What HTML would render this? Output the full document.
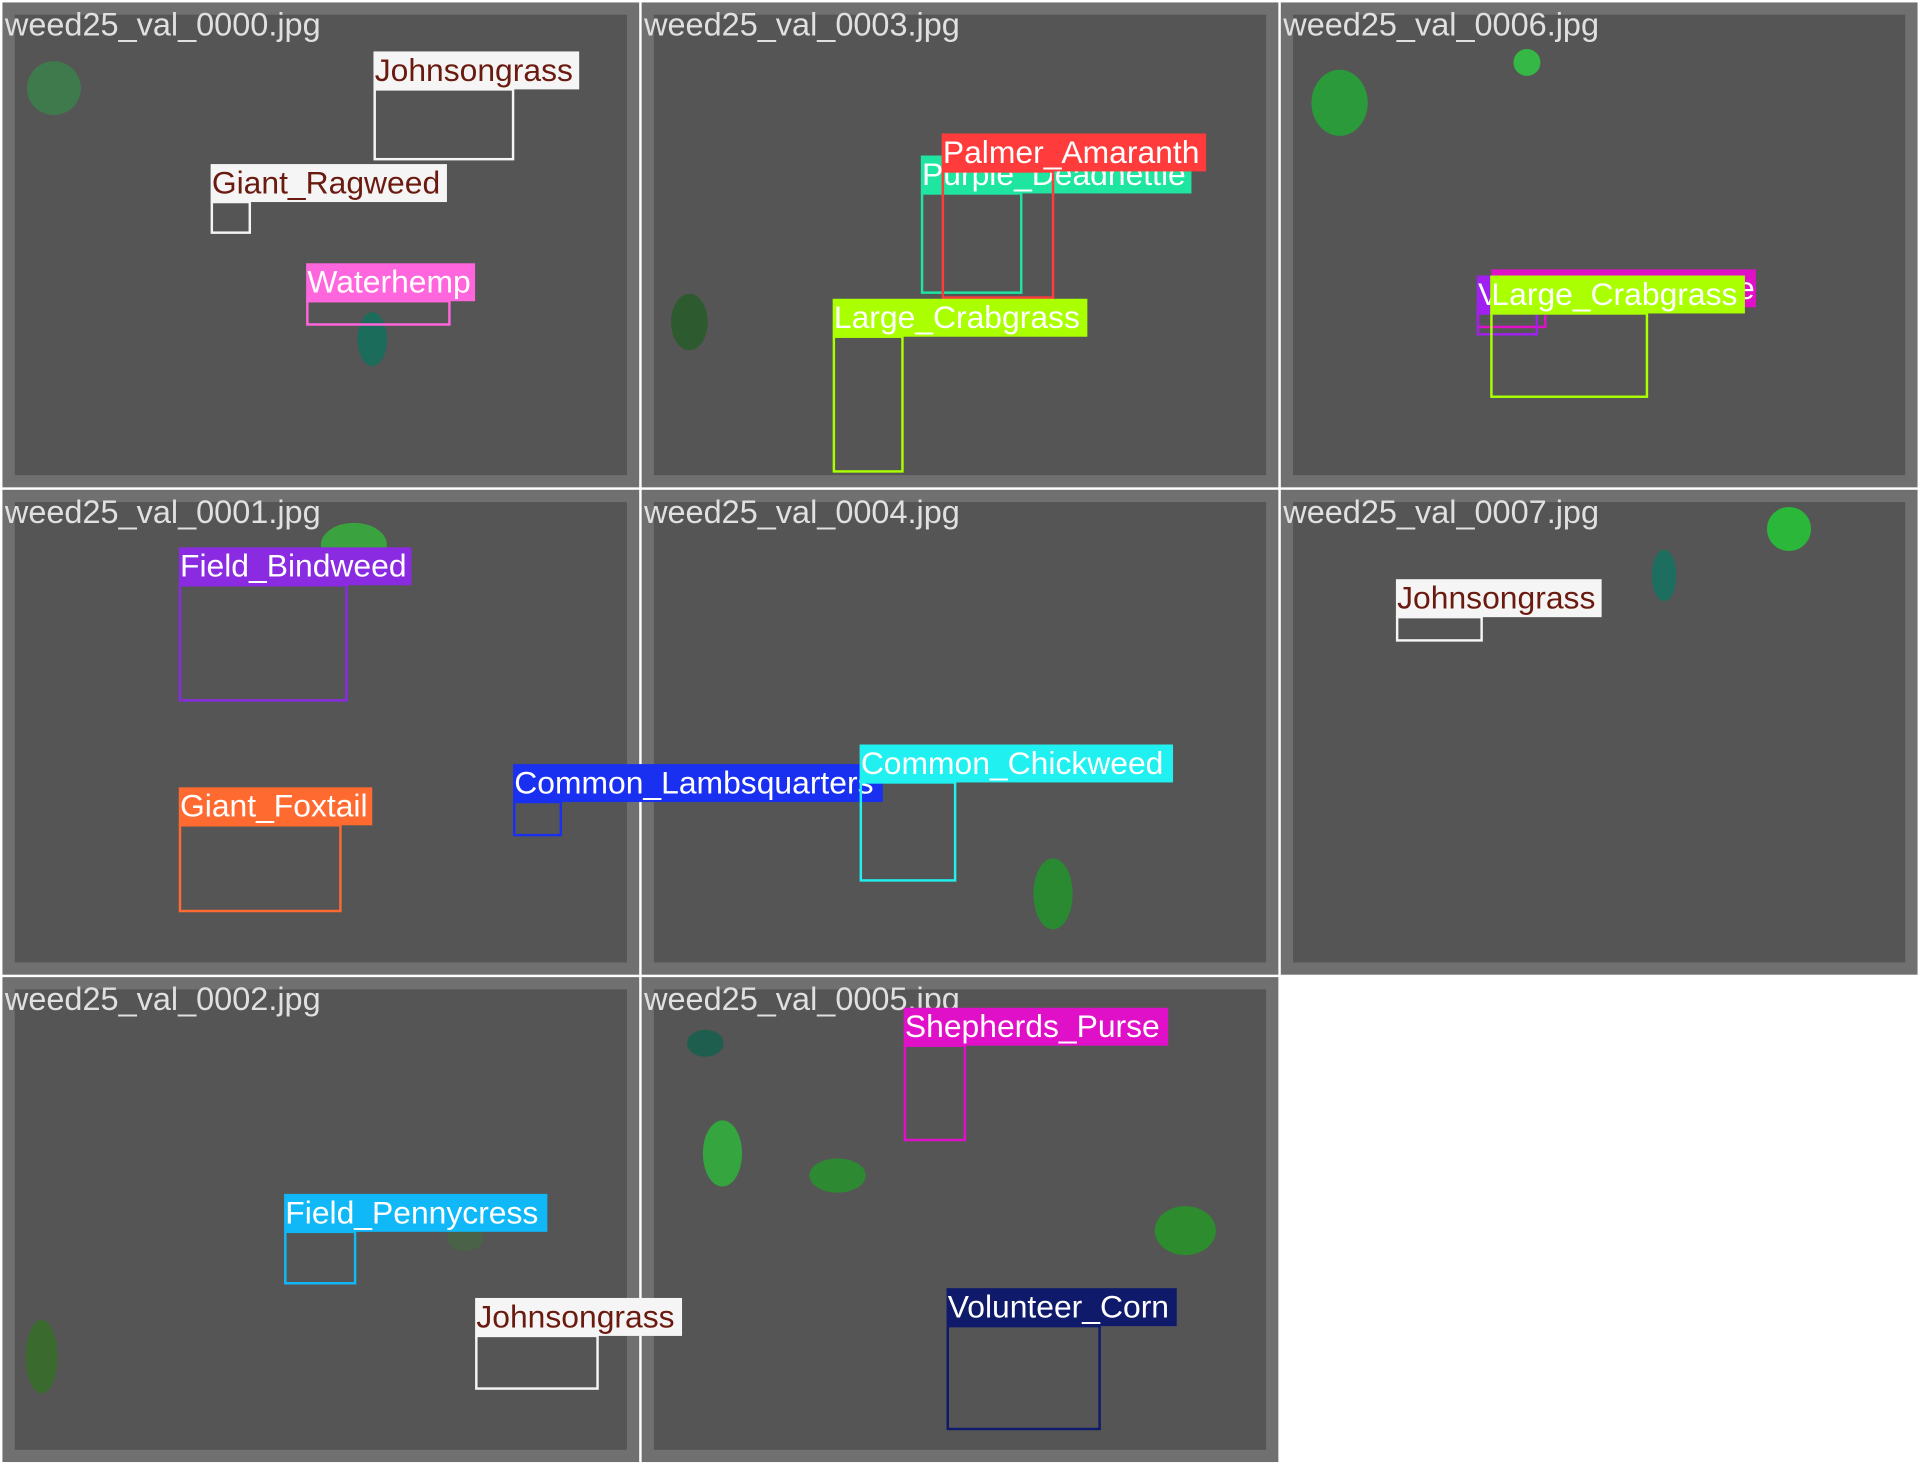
<!DOCTYPE html>
<html><head><meta charset="utf-8"><style>
html,body{margin:0;padding:0;background:#fff;width:1920px;height:1464px;overflow:hidden}
#s{position:absolute;left:0;top:0;width:1568px;height:1196px;transform:scale(1.22449);transform-origin:0 0;font-family:"Liberation Sans",sans-serif}
.t{position:absolute;width:520px;height:396px;background:#707070}
.t .in{position:absolute;left:10px;top:10px;right:10px;bottom:10px;background:#555555}
.ttl{position:absolute;font-size:26.5px;color:#e0e0e0;line-height:28px;white-space:nowrap}
.l{position:absolute;height:31px;line-height:31px;font-size:26px;color:#fff;white-space:nowrap;padding:0 1px;box-sizing:border-box;overflow:visible}
.b{position:absolute;border:2px solid;box-sizing:border-box}
.e{position:absolute;border-radius:50%}
</style></head><body><div id="s">
<div class="t" style="left:2px;top:2px"><div class="in"></div></div>
<div class="t" style="left:524px;top:2px"><div class="in"></div></div>
<div class="t" style="left:1046px;top:2px"><div class="in"></div></div>
<div class="t" style="left:2px;top:400px"><div class="in"></div></div>
<div class="t" style="left:524px;top:400px"><div class="in"></div></div>
<div class="t" style="left:1046px;top:400px"><div class="in"></div></div>
<div class="t" style="left:2px;top:798px"><div class="in"></div></div>
<div class="t" style="left:524px;top:798px"><div class="in"></div></div>

<!-- ellipses -->
<div class="e" style="left:22px;top:50px;width:44px;height:44px;background:#3f7a4c"></div>
<div class="e" style="left:292px;top:255px;width:24px;height:44px;background:#1c6c5c"></div>
<div class="e" style="left:548px;top:240px;width:30px;height:46px;background:#2e5a30"></div>
<div class="e" style="left:1071px;top:57px;width:46px;height:54px;background:#2a9a3a"></div>
<div class="e" style="left:1236px;top:40px;width:22px;height:22px;background:#35b845"></div>
<div class="e" style="left:262px;top:427px;width:54px;height:36px;background:#3aa23e"></div>
<div class="e" style="left:844px;top:701px;width:32px;height:58px;background:#2a8a32"></div>
<div class="e" style="left:1443px;top:414px;width:36px;height:36px;background:#2bb83a"></div>
<div class="e" style="left:1349px;top:449px;width:20px;height:42px;background:#1e6e60"></div>
<div class="e" style="left:21px;top:1078px;width:26px;height:60px;background:#3a6a2e"></div>
<div class="e" style="left:365px;top:998px;width:30px;height:24px;background:#4a6248"></div>
<div class="e" style="left:561px;top:841px;width:30px;height:22px;background:#1e5e4e"></div>
<div class="e" style="left:574px;top:915px;width:32px;height:54px;background:#35a540"></div>
<div class="e" style="left:661px;top:946px;width:46px;height:28px;background:#2e8a32"></div>
<div class="e" style="left:943px;top:985px;width:50px;height:40px;background:#2c8c2e"></div>

<!-- titles -->
<div class="ttl" style="left:4px;top:6px">weed25_val_0000.jpg</div>
<div class="ttl" style="left:526px;top:6px">weed25_val_0003.jpg</div>
<div class="ttl" style="left:1048px;top:6px">weed25_val_0006.jpg</div>
<div class="ttl" style="left:4px;top:404px">weed25_val_0001.jpg</div>
<div class="ttl" style="left:526px;top:404px">weed25_val_0004.jpg</div>
<div class="ttl" style="left:1048px;top:404px">weed25_val_0007.jpg</div>
<div class="ttl" style="left:4px;top:802px">weed25_val_0002.jpg</div>
<div class="ttl" style="left:526px;top:802px">weed25_val_0005.jpg</div>

<!-- tile 0000 -->
<div class="b" style="left:305px;top:72px;width:115px;height:59px;border-color:#f5f5f5"></div>
<div class="l" style="left:305px;top:42px;width:168px;background:#f5f5f5;color:#6b1a10">Johnsongrass</div>
<div class="b" style="left:172px;top:164px;width:33px;height:27px;border-color:#f5f5f5"></div>
<div class="l" style="left:172px;top:134px;width:193px;background:#f5f5f5;color:#6b1a10">Giant_Ragweed</div>
<div class="b" style="left:250px;top:245px;width:118px;height:21px;border-color:#ff66dd"></div>
<div class="l" style="left:250px;top:215px;width:138px;background:#ff66dd">Waterhemp</div>

<!-- tile 0003 -->
<div class="b" style="left:752px;top:157px;width:83px;height:83px;border-color:#1ee6a0"></div>
<div class="l" style="left:752px;top:127px;width:221px;background:#1ee6a0">Purple_Deadnettle</div>
<div class="b" style="left:769px;top:139px;width:92px;height:105px;border-color:#ff3b3b"></div>
<div class="l" style="left:769px;top:109px;width:216px;background:#ff3b3b">Palmer_Amaranth</div>
<div class="b" style="left:680px;top:274px;width:58px;height:112px;border-color:#aaff00"></div>
<div class="l" style="left:680px;top:244px;width:208px;background:#aaff00">Large_Crabgrass</div>

<!-- tile 0006 -->
<div class="b" style="left:1206px;top:250px;width:57px;height:18px;border-color:#e010c8"></div>
<div class="b" style="left:1206px;top:255px;width:50px;height:19px;border-color:#a020f0"></div>
<div class="l" style="left:1218px;top:220px;width:216px;background:#e010c8;text-align:right">e</div>
<div class="l" style="left:1206px;top:225px;width:60px;background:#a020f0">V</div>
<div class="b" style="left:1217px;top:255px;width:129px;height:70px;border-color:#aaff00"></div>
<div class="l" style="left:1217px;top:225px;width:208px;background:#aaff00">Large_Crabgrass</div>

<!-- tile 0001 -->
<div class="b" style="left:146px;top:477px;width:138px;height:96px;border-color:#8a2be2"></div>
<div class="l" style="left:146px;top:447px;width:190px;background:#8a2be2">Field_Bindweed</div>
<div class="b" style="left:146px;top:673px;width:133px;height:72px;border-color:#ff6a30"></div>
<div class="l" style="left:146px;top:643px;width:158px;background:#ff6a30">Giant_Foxtail</div>
<div class="b" style="left:419px;top:654px;width:40px;height:29px;border-color:#1a30f0"></div>
<div class="l" style="left:419px;top:624px;width:302px;background:#1a30f0">Common_Lambsquarters</div>

<!-- tile 0004 -->
<div class="b" style="left:702px;top:638px;width:79px;height:82px;border-color:#20f0f0"></div>
<div class="l" style="left:702px;top:608px;width:256px;background:#20f0f0">Common_Chickweed</div>

<!-- tile 0007 -->
<div class="b" style="left:1140px;top:503px;width:71px;height:21px;border-color:#f5f5f5"></div>
<div class="l" style="left:1140px;top:473px;width:168px;background:#f5f5f5;color:#6b1a10">Johnsongrass</div>

<!-- tile 0002 -->
<div class="b" style="left:232px;top:1005px;width:59px;height:44px;border-color:#10b8f8"></div>
<div class="l" style="left:232px;top:975px;width:215px;background:#10b8f8">Field_Pennycress</div>
<div class="b" style="left:388px;top:1090px;width:101px;height:45px;border-color:#f5f5f5"></div>
<div class="l" style="left:388px;top:1060px;width:169px;background:#f5f5f5;color:#6b1a10">Johnsongrass</div>

<!-- tile 0005 -->
<div class="b" style="left:738px;top:853px;width:51px;height:79px;border-color:#e010c8"></div>
<div class="l" style="left:738px;top:823px;width:216px;background:#e010c8">Shepherds_Purse</div>
<div class="b" style="left:773px;top:1082px;width:126px;height:86px;border-color:#101a6a"></div>
<div class="l" style="left:773px;top:1052px;width:188px;background:#101a6a">Volunteer_Corn</div>
</div></body></html>
